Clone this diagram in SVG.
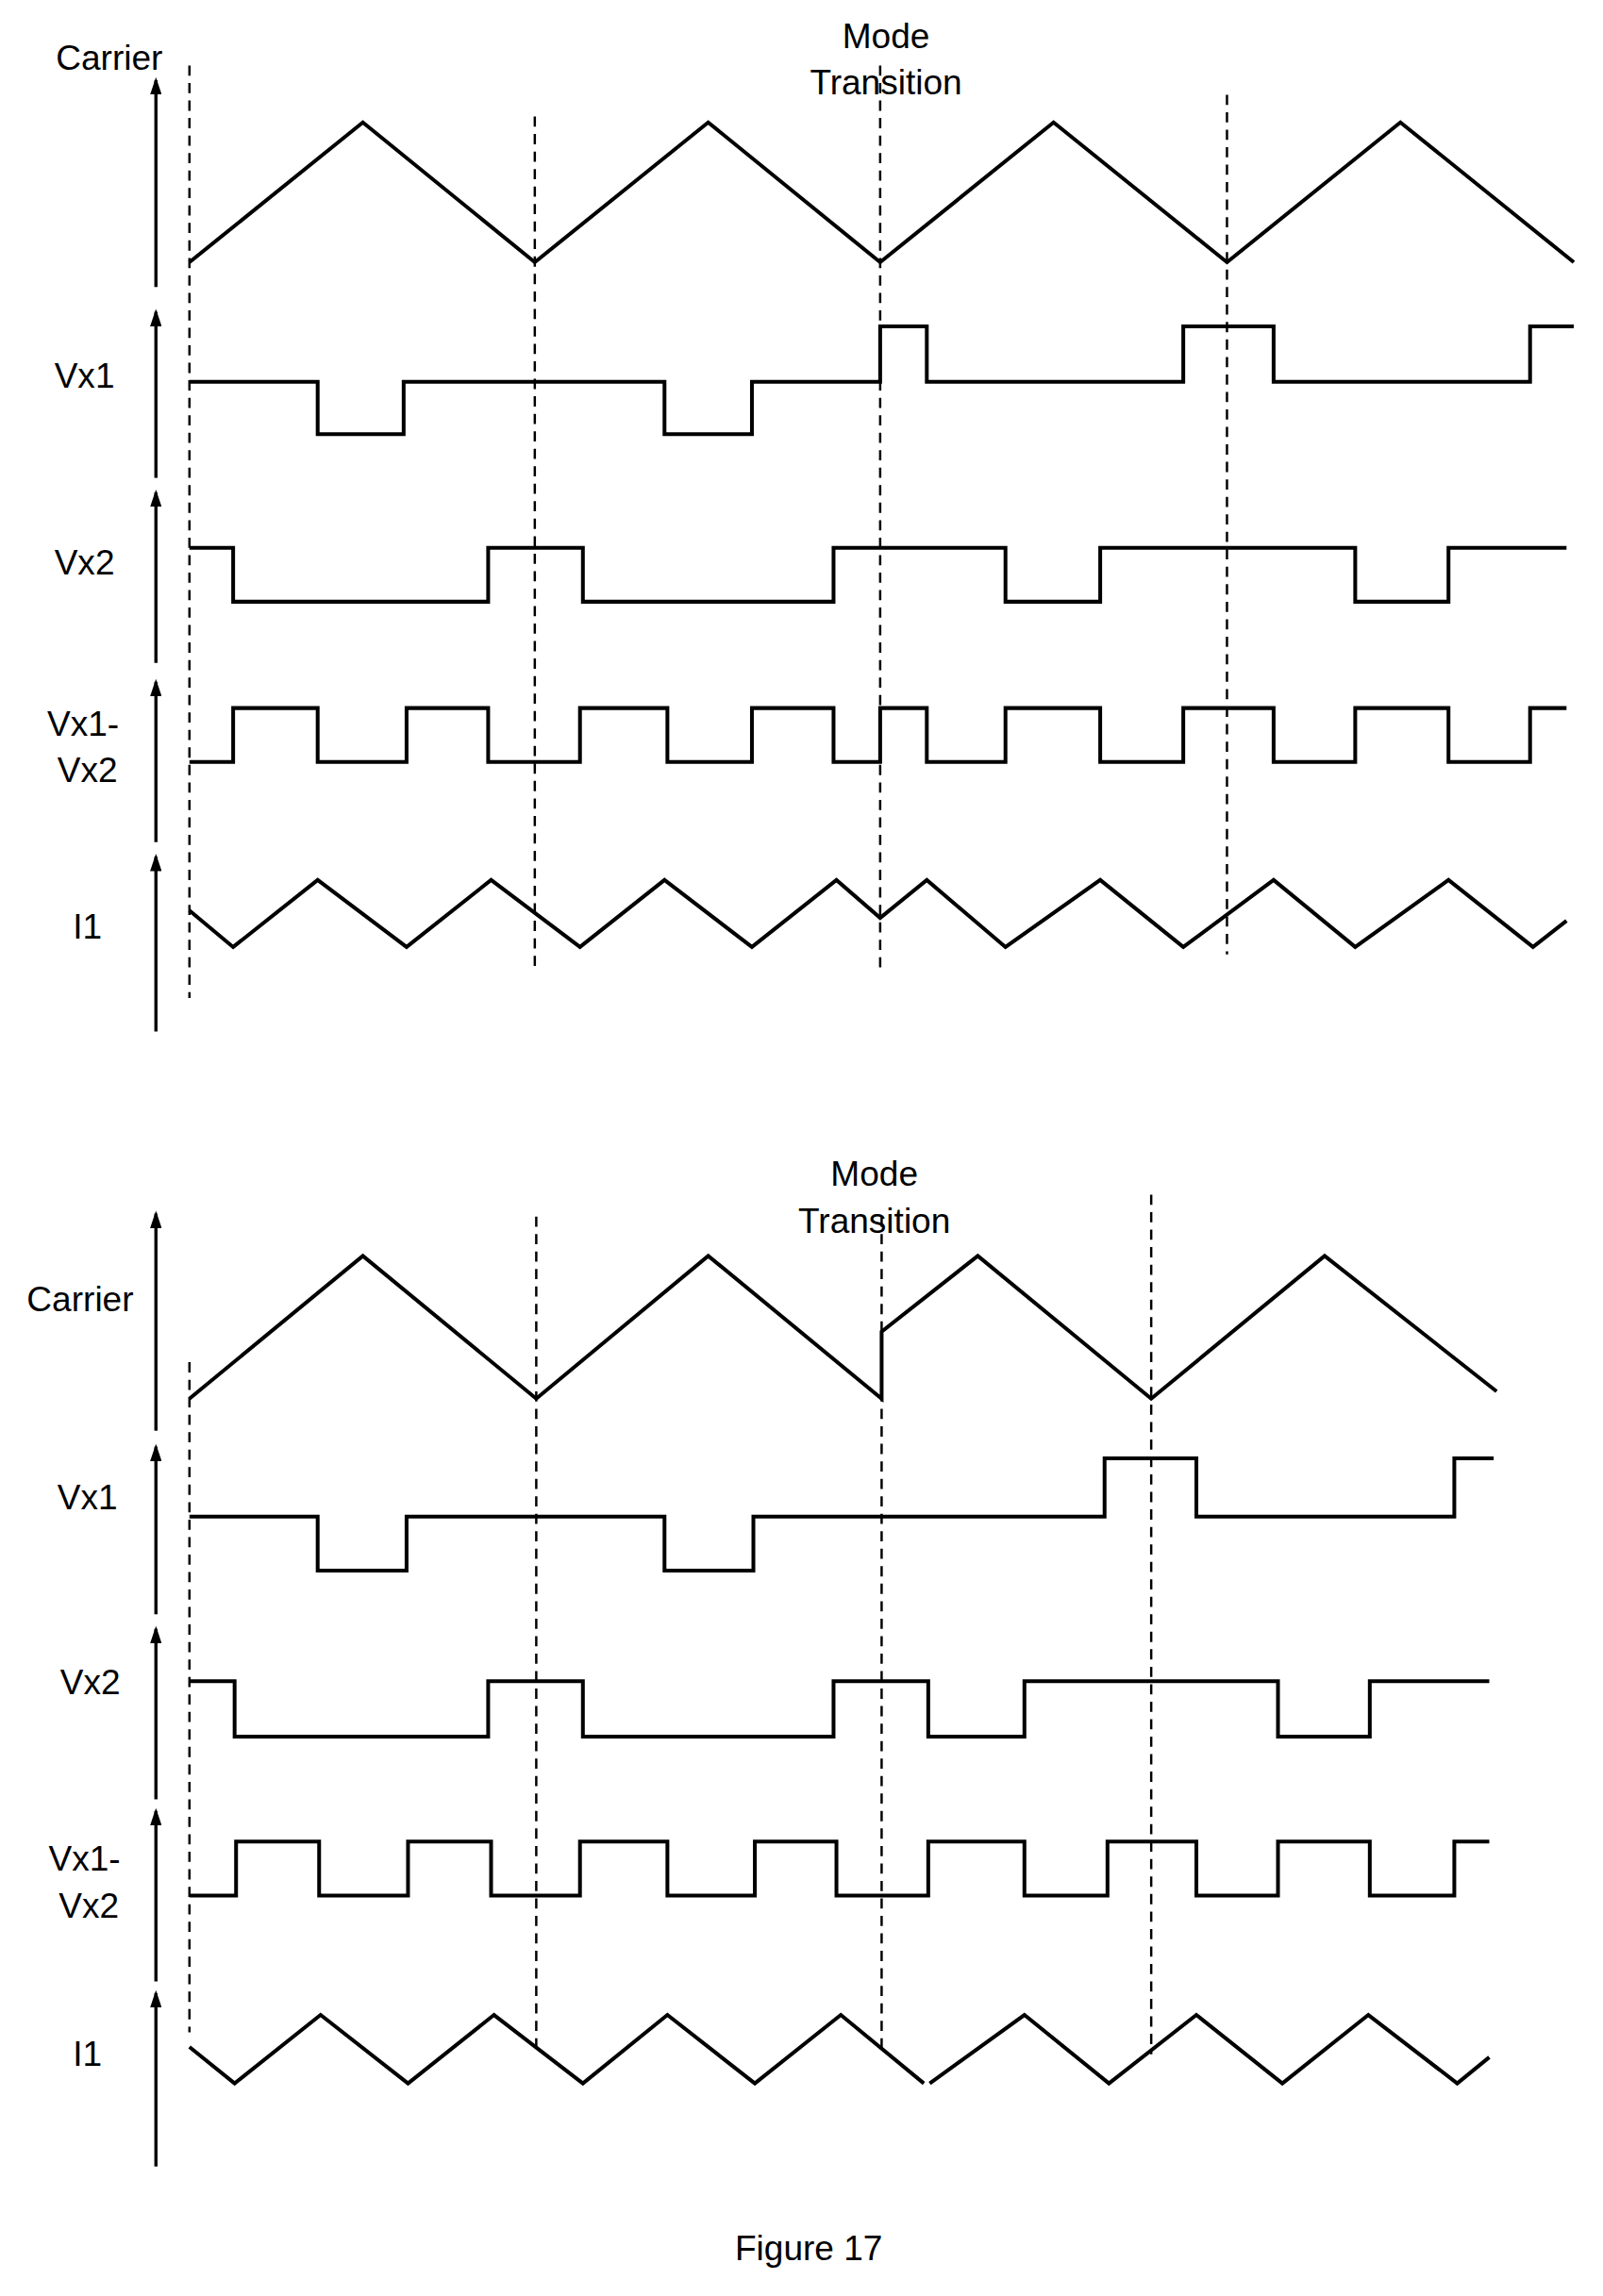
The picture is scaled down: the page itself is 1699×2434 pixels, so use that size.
<svg xmlns="http://www.w3.org/2000/svg" width="1699" height="2434" viewBox="0 0 1699 2434">
<defs>
<marker id="ah" markerWidth="12" markerHeight="8" refX="10" refY="4" orient="auto" markerUnits="userSpaceOnUse" viewBox="0 0 12 8"><path d="M0,0 L12,4 L0,8 Z" fill="#000"/></marker>
<style>
.w{fill:none;stroke:#000;stroke-width:2.6;stroke-linejoin:miter}
.ax{stroke:#000;stroke-width:2.2;fill:none}
.d{stroke:#000;stroke-width:1.6;stroke-dasharray:7,5;fill:none}
text{font-family:"Liberation Sans",Arial,sans-serif;font-size:24px;fill:#000}
.c{text-anchor:middle}
</style>
</defs>
<rect width="1699" height="2434" fill="#fff"/>
<g transform="scale(1.5445)">
<g id="connectors">
<line class="ax" x1="107" y1="197" x2="107" y2="55" marker-end="url(#ah)"/>
<line class="ax" x1="107" y1="328" x2="107" y2="214" marker-end="url(#ah)"/>
<line class="ax" x1="107" y1="455" x2="107" y2="338" marker-end="url(#ah)"/>
<line class="ax" x1="107" y1="578" x2="107" y2="468" marker-end="url(#ah)"/>
<line class="ax" x1="107" y1="708" x2="107" y2="588" marker-end="url(#ah)"/>
<line class="d" x1="130" y1="45" x2="130" y2="685"/>
<line class="d" x1="367" y1="80" x2="367" y2="665"/>
<line class="d" x1="604" y1="45" x2="604" y2="665"/>
<line class="d" x1="842" y1="65" x2="842" y2="655"/>
<line class="ax" x1="107" y1="982" x2="107" y2="833" marker-end="url(#ah)"/>
<line class="ax" x1="107" y1="1108" x2="107" y2="993" marker-end="url(#ah)"/>
<line class="ax" x1="107" y1="1235" x2="107" y2="1118" marker-end="url(#ah)"/>
<line class="ax" x1="107" y1="1360" x2="107" y2="1243" marker-end="url(#ah)"/>
<line class="ax" x1="107" y1="1487" x2="107" y2="1368" marker-end="url(#ah)"/>
<line class="d" x1="130" y1="935" x2="130" y2="1395"/>
<line class="d" x1="368" y1="835" x2="368" y2="1405"/>
<line class="d" x1="605" y1="835" x2="605" y2="1410"/>
<line class="d" x1="790" y1="820" x2="790" y2="1410"/>
</g>
<g id="top-carrier"><text x="75" y="48" class="c">Carrier</text>
<polyline class="w" points="130,180 249,84 367,180 486,84 604,180 723,84 842,180 961,84 1080,180"/></g>
<g id="top-mode"><text x="608" y="33" class="c">Mode</text><text x="608" y="65" class="c">Transition</text></g>
<g id="top-vx1"><text x="58" y="266" class="c">Vx1</text>
<polyline class="w" points="130,262 218,262 218,298 277,298 277,262 456,262 456,298 516,298 516,262 604,262 604,224 636,224 636,262 812,262 812,224 874,224 874,262 1050,262 1050,224 1080,224"/></g>
<g id="top-vx2"><text x="58" y="394" class="c">Vx2</text>
<polyline class="w" points="130,376 160,376 160,413 335,413 335,376 400,376 400,413 572,413 572,376 690,376 690,413 755,413 755,376 930,376 930,413 994,413 994,376 1075,376"/></g>
<g id="top-diff"><text x="57" y="505" class="c">Vx1-</text><text x="60" y="537" class="c">Vx2</text>
<polyline class="w" points="130,523 160,523 160,486 218,486 218,523 279,523 279,486 335,486 335,523 398,523 398,486 458,486 458,523 516,523 516,486 572,486 572,523 604,523 604,486 636,486 636,523 690,523 690,486 755,486 755,523 812,523 812,486 874,486 874,523 930,523 930,486 994,486 994,523 1050,523 1050,486 1075,486"/></g>
<g id="top-i1"><text x="60" y="644" class="c">I1</text>
<polyline class="w" points="130,625 160,650 218,604 279,650 337,604 398,650 456,604 516,650 574,604 604,630 636,604 690,650 755,604 812,650 874,604 930,650 994,604 1052,650 1075,632"/></g>

<g id="bot-carrier"><text x="55" y="900" class="c">Carrier</text>
<polyline class="w" points="130,960 249,862 368,960 486,862 605,960 605,914 671,862 790,960 909,862 1027,955"/></g>
<g id="bot-mode"><text x="600" y="814" class="c">Mode</text><text x="600" y="846" class="c">Transition</text></g>
<g id="bot-vx1"><text x="60" y="1036" class="c">Vx1</text>
<polyline class="w" points="130,1041 218,1041 218,1078 279,1078 279,1041 456,1041 456,1078 517,1078 517,1041 758,1041 758,1001 821,1001 821,1041 998,1041 998,1001 1025,1001"/></g>
<g id="bot-vx2"><text x="62" y="1163" class="c">Vx2</text>
<polyline class="w" points="130,1154 161,1154 161,1192 335,1192 335,1154 400,1154 400,1192 572,1192 572,1154 637,1154 637,1192 703,1192 703,1154 877,1154 877,1192 940,1192 940,1154 1022,1154"/></g>
<g id="bot-diff"><text x="58" y="1284" class="c">Vx1-</text><text x="61" y="1316" class="c">Vx2</text>
<polyline class="w" points="130,1301 162,1301 162,1264 219,1264 219,1301 280,1301 280,1264 337,1264 337,1301 398,1301 398,1264 458,1264 458,1301 518,1301 518,1264 574,1264 574,1301 637,1301 637,1264 703,1264 703,1301 760,1301 760,1264 821,1264 821,1301 877,1301 877,1264 940,1264 940,1301 998,1301 998,1264 1022,1264"/></g>
<g id="bot-i1"><text x="60" y="1418" class="c">I1</text>
<polyline class="w" points="130,1405 161,1430 220,1383 280,1430 339,1383 400,1430 458,1383 518,1430 577,1383 634,1430"/>
<polyline class="w" points="638,1430 703,1383 761,1430 821,1383 880,1430 939,1383 1000,1430 1022,1412"/></g>
<g id="caption"><text x="555" y="1551" class="c">Figure 17</text></g>
</g>
</svg>
